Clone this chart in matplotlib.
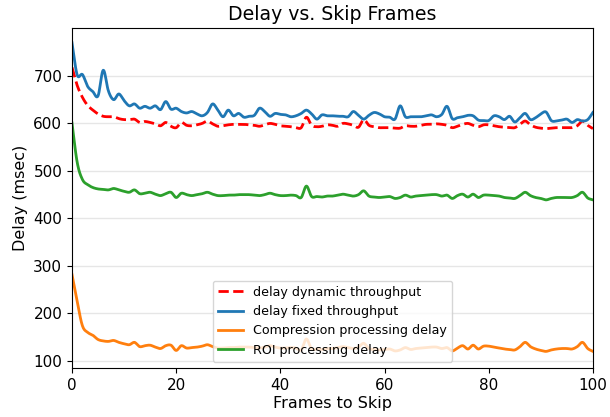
import matplotlib
matplotlib.use("Agg")
import matplotlib.pyplot as plt
import numpy as np

frames = list(range(0, 101))

delay_dynamic = [718, 680, 655, 638, 628, 620, 615, 614, 614, 610,
                 608, 608, 609, 602, 604, 602, 599, 595, 602, 594,
                 591, 602, 596, 595, 597, 600, 605, 599, 594, 595,
                 597, 598, 598, 598, 597, 596, 594, 597, 600, 598,
                 595, 594, 593, 591, 591, 613, 596, 593, 594, 597,
                 596, 594, 600, 599, 596, 592, 608, 596, 593, 591,
                 591, 591, 590, 590, 595, 594, 594, 596, 598, 598,
                 599, 598, 596, 591, 594, 598, 600, 596, 593, 597,
                 597, 595, 593, 592, 591, 591, 598, 605, 597, 592,
                 590, 589, 590, 591, 591, 591, 591, 595, 605, 596,
                 589]

delay_fixed = [770, 702, 703, 678, 667, 658, 712, 668, 650, 662,
               648, 637, 641, 632, 636, 632, 637, 629, 646, 630,
               632, 625, 622, 625, 620, 616, 623, 641, 628, 614,
               628, 616, 621, 613, 615, 617, 632, 625, 615, 621,
               619, 618, 614, 616, 621, 628, 620, 609, 618, 616,
               616, 615, 615, 614, 625, 617, 609, 617, 623, 620,
               614, 613, 609, 637, 614, 614, 614, 614, 616, 618,
               614, 619, 636, 610, 612, 614, 617, 616, 607, 606,
               606, 616, 614, 608, 615, 603, 612, 621, 608, 612,
               620, 624, 606, 605, 607, 609, 602, 608, 605, 608,
               623]

compression_delay = [282, 225, 174, 160, 154, 145, 142, 141, 143, 139,
                     136, 134, 139, 130, 132, 133, 129, 126, 132, 133,
                     122, 132, 127, 128, 129, 131, 134, 130, 127, 127,
                     128, 128, 129, 129, 129, 128, 127, 129, 132, 129,
                     127, 127, 128, 127, 123, 146, 125, 125, 124, 126,
                     126, 128, 130, 128, 126, 129, 137, 126, 124, 123,
                     124, 125, 121, 123, 128, 124, 126, 127, 128, 129,
                     129, 126, 128, 121, 127, 132, 125, 133, 125, 131,
                     131, 129, 127, 125, 124, 123, 130, 139, 130, 125,
                     122, 120, 123, 125, 126, 126, 125, 130, 139, 126,
                     120]

roi_delay = [601, 518, 482, 471, 465, 462, 461, 460, 463, 460,
             457, 455, 460, 452, 453, 455, 451, 448, 452, 455,
             444, 453, 450, 448, 450, 452, 455, 451, 448, 448,
             449, 449, 450, 450, 450, 449, 448, 450, 453, 450,
             448, 448, 449, 448, 444, 468, 446, 446, 445, 447,
             447, 449, 451, 449, 447, 450, 458, 447, 445, 444,
             445, 446, 442, 444, 449, 445, 447, 448, 449, 450,
             450, 447, 449, 442, 448, 451, 445, 451, 444, 449,
             449, 448, 447, 444, 443, 442, 448, 455, 448, 444,
             442, 439, 442, 444, 444, 444, 444, 448, 455, 443,
             439]

series_labels = ["delay dynamic throughput", "delay fixed throughput",
                 "Compression processing delay", "ROI processing delay"]


def smooth(x, y, n=10):
    """Catmull-Rom interpolation through the data points."""
    x = np.asarray(x, float)
    y = np.asarray(y, float)
    p = np.concatenate([[2 * y[0] - y[1]], y, [2 * y[-1] - y[-2]]])
    xs, ys = [], []
    for i in range(len(x) - 1):
        t = np.linspace(0, 1, n, endpoint=False)
        p0, p1, p2, p3 = p[i], p[i + 1], p[i + 2], p[i + 3]
        yy = 0.5 * ((2 * p1) + (-p0 + p2) * t + (2 * p0 - 5 * p1 + 4 * p2 - p3) * t ** 2
                    + (-p0 + 3 * p1 - 3 * p2 + p3) * t ** 3)
        xs.append(x[i] + (x[i + 1] - x[i]) * t)
        ys.append(yy)
    xs.append([x[-1]])
    ys.append([y[-1]])
    return np.concatenate(xs), np.concatenate(ys)


fig = plt.figure(figsize=(6.1, 4.17), dpi=100)
ax = fig.add_axes([0.118, 0.1175, 0.854, 0.8155])

styles = [dict(color="red", linestyle="--"),
          dict(color="#1f77b4"),
          dict(color="#ff7f0e"),
          dict(color="#2ca02c")]
for data, lab, st in zip([delay_dynamic, delay_fixed, compression_delay, roi_delay],
                         series_labels, styles):
    sx, sy = smooth(frames, data)
    ax.plot(sx, sy, linewidth=2, label=lab, **st)

ax.set_xlim(0, 100)
ax.set_ylim(85, 801)
ax.set_yticks([100, 200, 300, 400, 500, 600, 700])
ax.set_xticks([0, 20, 40, 60, 80, 100])
ax.grid(axis="y", color="#e6e6e6", linewidth=1)
ax.set_axisbelow(True)
ax.tick_params(labelsize=11)
ax.set_xlabel("Frames to Skip", fontsize=11.5, labelpad=2)
ax.set_ylabel("Delay (msec)", fontsize=11.5)
ax.set_title("Delay vs. Skip Frames", fontsize=13.6)
ax.legend(loc="lower center", fontsize=9.1)

fig.savefig("out.png", dpi=100)
